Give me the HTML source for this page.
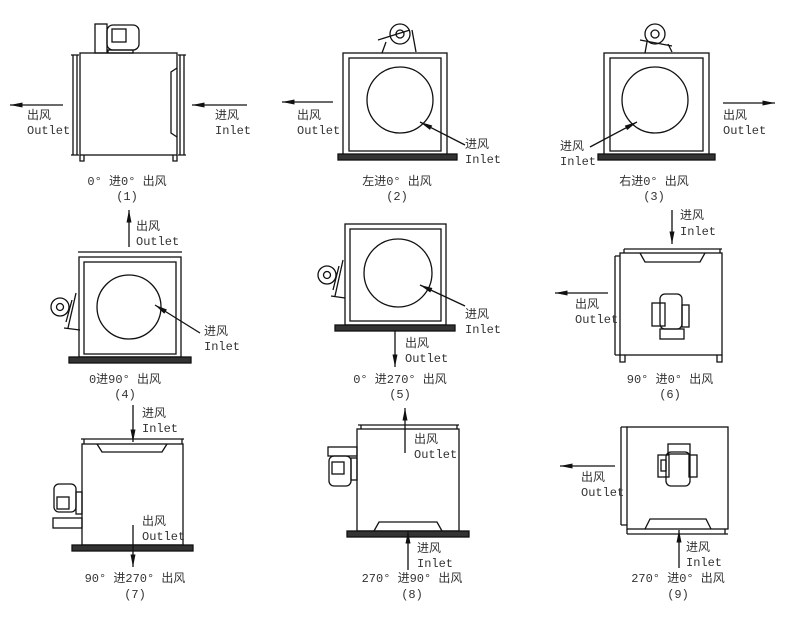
<!DOCTYPE html>
<html><head><meta charset="utf-8"><style>
body{margin:0;background:#fff}
svg{display:block}
text{font-family:"Liberation Mono","Noto Sans CJK SC",monospace;font-size:12px;fill:#333;stroke:none}
.c{text-anchor:middle}
</style></head><body>
<svg width="800" height="619" viewBox="0 0 800 619" xmlns="http://www.w3.org/2000/svg" stroke="#111" fill="none" stroke-width="1.3">
<defs><marker id="a" viewBox="0 0 10 4" refX="10" refY="2" markerWidth="14" markerHeight="5" orient="auto" markerUnits="userSpaceOnUse"><path d="M0,0L10,2L0,4z" fill="#111" stroke="none"/></marker></defs>

<!-- Panel 1 -->
<rect x="80" y="53" width="97" height="102"/>
<path d="M73 55V155M77 55V155M180 55V155M184 55V155M71 55H79M71 155H79M178 55H186M178 155H186"/>
<path d="M177 68L171 72V133L177 137"/>
<path d="M80 155V161H84V155M173 155V161H177V155"/>
<rect x="95" y="24" width="12" height="29"/><rect x="107" y="25" width="32" height="25" rx="6"/><rect x="112" y="29" width="14" height="13"/><rect x="108" y="50" width="25" height="3"/>
<line x1="63" y1="105" x2="10" y2="105" marker-end="url(#a)"/>
<line x1="247" y1="105" x2="192" y2="105" marker-end="url(#a)"/>
<text x="27" y="119">出风</text><text x="27" y="134">Outlet</text>
<text x="215" y="119">进风</text><text x="215" y="134">Inlet</text>
<text class="c" x="127" y="185">0° 进0° 出风</text><text class="c" x="127" y="200">(1)</text>

<!-- Panel 2 -->
<rect x="343" y="53" width="104" height="103"/><rect x="349" y="58" width="92" height="93"/>
<rect x="338" y="154" width="119" height="6" fill="#333"/>
<circle cx="400" cy="100" r="33"/>
<circle cx="400" cy="34" r="10"/><circle cx="400" cy="34" r="4"/><path d="M378 40L410 30M382 53L386 42M412 30L416 52"/>
<line x1="333" y1="102" x2="282" y2="102" marker-end="url(#a)"/>
<text x="297" y="119">出风</text><text x="297" y="134">Outlet</text>
<line x1="465" y1="145" x2="420" y2="122" marker-end="url(#a)"/>
<text x="465" y="148">进风</text><text x="465" y="163">Inlet</text>
<text class="c" x="397" y="185">左进0° 出风</text><text class="c" x="397" y="200">(2)</text>

<!-- Panel 3 -->
<rect x="604" y="53" width="105" height="103"/><rect x="610" y="58" width="93" height="93"/>
<rect x="598" y="154" width="117" height="6" fill="#333"/>
<circle cx="655" cy="100" r="33"/>
<circle cx="655" cy="34" r="10"/><circle cx="655" cy="34" r="4"/><path d="M640 40L672 46M645 53L647 42M668 44L672 52"/>
<line x1="723" y1="103" x2="775" y2="103" marker-end="url(#a)"/>
<text x="723" y="119">出风</text><text x="723" y="134">Outlet</text>
<line x1="590" y1="147" x2="637" y2="122" marker-end="url(#a)"/>
<text x="560" y="150">进风</text><text x="560" y="165">Inlet</text>
<text class="c" x="654" y="185">右进0° 出风</text><text class="c" x="654" y="200">(3)</text>

<!-- Panel 4 -->
<path d="M78 252H182"/>
<rect x="79" y="257" width="102" height="100"/><rect x="84" y="262" width="92" height="92"/>
<rect x="69" y="357" width="122" height="6" fill="#333"/>
<circle cx="129" cy="307" r="32"/>
<circle cx="60" cy="307" r="9"/><circle cx="60" cy="307" r="3.5"/><path d="M68 328L76 293M64 328L80 330M66 322L72 300"/>
<line x1="129" y1="247" x2="129" y2="210" marker-end="url(#a)"/>
<text x="136" y="230">出风</text><text x="136" y="245">Outlet</text>
<line x1="200" y1="333" x2="155" y2="305" marker-end="url(#a)"/>
<text x="204" y="335">进风</text><text x="204" y="350">Inlet</text>
<text class="c" x="125" y="383">0进90° 出风</text><text class="c" x="125" y="398">(4)</text>

<!-- Panel 5 -->
<rect x="345" y="224" width="101" height="101"/><rect x="350" y="229" width="91" height="92"/>
<rect x="335" y="325" width="120" height="6" fill="#333"/>
<circle cx="398" cy="273" r="34"/>
<circle cx="327" cy="275" r="9"/><circle cx="327" cy="275" r="3.5"/><path d="M335 296L343 260M331 296L345 298M333 290L339 266"/>
<line x1="395" y1="331" x2="395" y2="367" marker-end="url(#a)"/>
<text x="405" y="347">出风</text><text x="405" y="362">Outlet</text>
<line x1="465" y1="306" x2="420" y2="285" marker-end="url(#a)"/>
<text x="465" y="318">进风</text><text x="465" y="333">Inlet</text>
<text class="c" x="400" y="383">0° 进270° 出风</text><text class="c" x="400" y="398">(5)</text>

<!-- Panel 6 -->
<path d="M624 249H722M624 249V253M720 249V253"/>
<rect x="620" y="253" width="102" height="102"/>
<path d="M615 256V355M615 256H620M615 355H620M640 253L645 262H700L705 253"/>
<path d="M620 355V362H625V355M717 355V362H722V355"/>
<rect x="652" y="303" width="13" height="23"/><rect x="660" y="294" width="22" height="35" rx="5"/><rect x="682" y="305" width="7" height="22"/><rect x="660" y="329" width="24" height="10"/>
<line x1="672" y1="210" x2="672" y2="244" marker-end="url(#a)"/>
<text x="680" y="219">进风</text><text x="680" y="235">Inlet</text>
<line x1="608" y1="293" x2="555" y2="293" marker-end="url(#a)"/>
<text x="575" y="308">出风</text><text x="575" y="323">Outlet</text>
<text class="c" x="670" y="383">90° 进0° 出风</text><text class="c" x="670" y="398">(6)</text>

<!-- Panel 7 -->
<path d="M81 439H184M84 439V444M182 439V444M97 444L102 452H162L167 444"/>
<rect x="82" y="444" width="101" height="101"/>
<rect x="72" y="545" width="121" height="6" fill="#333"/>
<rect x="54" y="484" width="22" height="28" rx="5"/><rect x="57" y="497" width="12" height="12"/><rect x="76" y="492" width="6" height="22"/><rect x="53" y="518" width="29" height="10"/>
<line x1="133" y1="405" x2="133" y2="442" marker-end="url(#a)"/>
<text x="142" y="417">进风</text><text x="142" y="432">Inlet</text>
<line x1="133" y1="525" x2="133" y2="567" marker-end="url(#a)"/>
<text x="142" y="525">出风</text><text x="142" y="540">Outlet</text>
<text class="c" x="135" y="582">90° 进270° 出风</text><text class="c" x="135" y="598">(7)</text>

<!-- Panel 8 -->
<path d="M358 425H459M361 425V429M457 425V429"/>
<rect x="357" y="429" width="102" height="102"/>
<path d="M374 531L379 522H437L442 531"/>
<rect x="347" y="531" width="122" height="6" fill="#333"/>
<rect x="328" y="447" width="29" height="9"/><rect x="329" y="456" width="22" height="30" rx="5"/><rect x="332" y="462" width="12" height="12"/><rect x="351" y="458" width="6" height="22"/>
<line x1="405" y1="453" x2="405" y2="408" marker-end="url(#a)"/>
<text x="414" y="443">出风</text><text x="414" y="458">Outlet</text>
<line x1="408" y1="570" x2="408" y2="531" marker-end="url(#a)"/>
<text x="417" y="552">进风</text><text x="417" y="567">Inlet</text>
<text class="c" x="412" y="582">270° 进90° 出风</text><text class="c" x="412" y="598">(8)</text>

<!-- Panel 9 -->
<rect x="627" y="427" width="101" height="102"/>
<path d="M621 427V525M621 427H627M621 525H627M627 534H728M627 529V534M725 529V534M645 529L650 519H706L711 529"/>
<rect x="668" y="444" width="22" height="10"/><rect x="658" y="455" width="11" height="22"/><rect x="666" y="452" width="24" height="34" rx="5"/><rect x="689" y="455" width="8" height="22"/><rect x="661" y="460" width="5" height="11"/>
<line x1="615" y1="466" x2="560" y2="466" marker-end="url(#a)"/>
<text x="581" y="481">出风</text><text x="581" y="496">Outlet</text>
<line x1="679" y1="568" x2="679" y2="530" marker-end="url(#a)"/>
<text x="686" y="551">进风</text><text x="686" y="566">Inlet</text>
<text class="c" x="678" y="582">270° 进0° 出风</text><text class="c" x="678" y="598">(9)</text>
</svg>
</body></html>
